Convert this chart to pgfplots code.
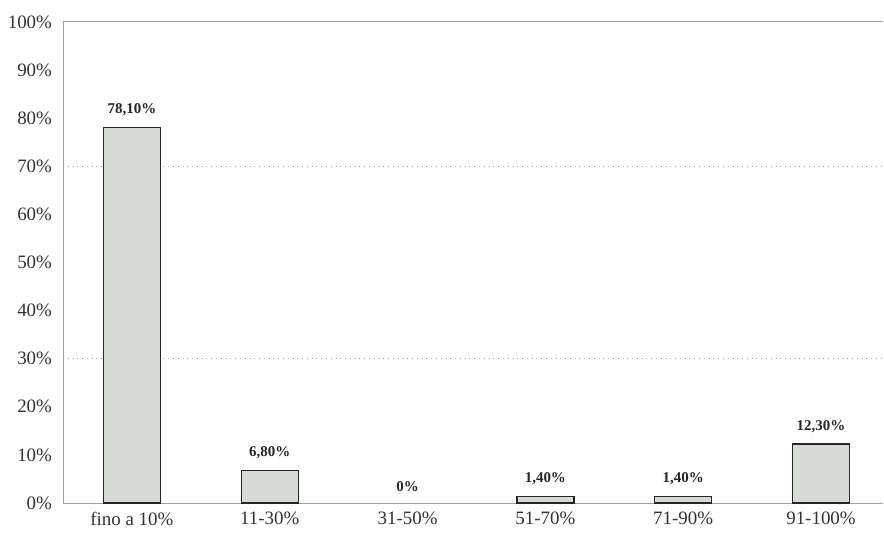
\documentclass[border=0pt]{standalone}
\usepackage{pgfplots}
\pgfplotsset{compat=1.18}
\usepackage{fontspec}
\setmainfont{Liberation Serif}
\definecolor{barfill}{RGB}{214,219,214}
\definecolor{axisgray}{RGB}{160,160,160}
\begin{document}
\begin{tikzpicture}[x=1bp,y=1bp]
\useasboundingbox (-31.5,-16.5) rectangle (410.5,251.5);
\begin{axis}[
  at={(0,0)}, anchor=south west,
  scale only axis,
  width=410bp, height=240.5bp,
  xmin=-0.5, xmax=5.45,
  ymin=0, ymax=100,
  axis x line*=bottom, axis y line*=left,
  axis line style={axisgray, line width=0.5pt},
  xtick={0,...,5},
  xticklabels={fino a 10\%, 11-30\%, 31-50\%, 51-70\%, 71-90\%, 91-100\%},
  ytick={0,10,...,100},
  yticklabel={\pgfmathprintnumber{\tick}\%},
  /pgf/number format/assume math mode=true,
  major tick length=0pt,
  tick label style={font=\fontsize{9.5}{11}\selectfont, text=black!80},
  yticklabel style={xshift=-2bp},
  xticklabel style={yshift=-1bp},
  extra y ticks={30,70},
  extra y tick labels={},
  extra y tick style={grid=major, major grid style={axisgray, dotted, line width=0.6pt}},
  clip=false,
  every node near coord/.append style={font=\fontsize{7.5}{9}\selectfont\bfseries, text=black!85, yshift=2bp},
]
% categories with a non-zero share
\addplot[ybar, bar width=28.5bp, fill=barfill, draw=black!85, line width=0.7pt,
  point meta=explicit symbolic, nodes near coords]
  coordinates {
    (0,78.1) [78,10\%]
    (1,6.8)  [6,80\%]
    (3,1.4)  [1,40\%]
    (4,1.4)  [1,40\%]
    (5,12.3) [12,30\%]
  };
% the empty category: label only, no visible bar
\addplot[ybar, bar width=28.5bp, draw=none, fill=none,
  point meta=explicit symbolic, nodes near coords]
  coordinates {
    (2,0) [0\%]
  };
\draw[axisgray, line width=0.5pt] (rel axis cs:0,1) -- (rel axis cs:1,1);
\end{axis}
\end{tikzpicture}
\end{document}
